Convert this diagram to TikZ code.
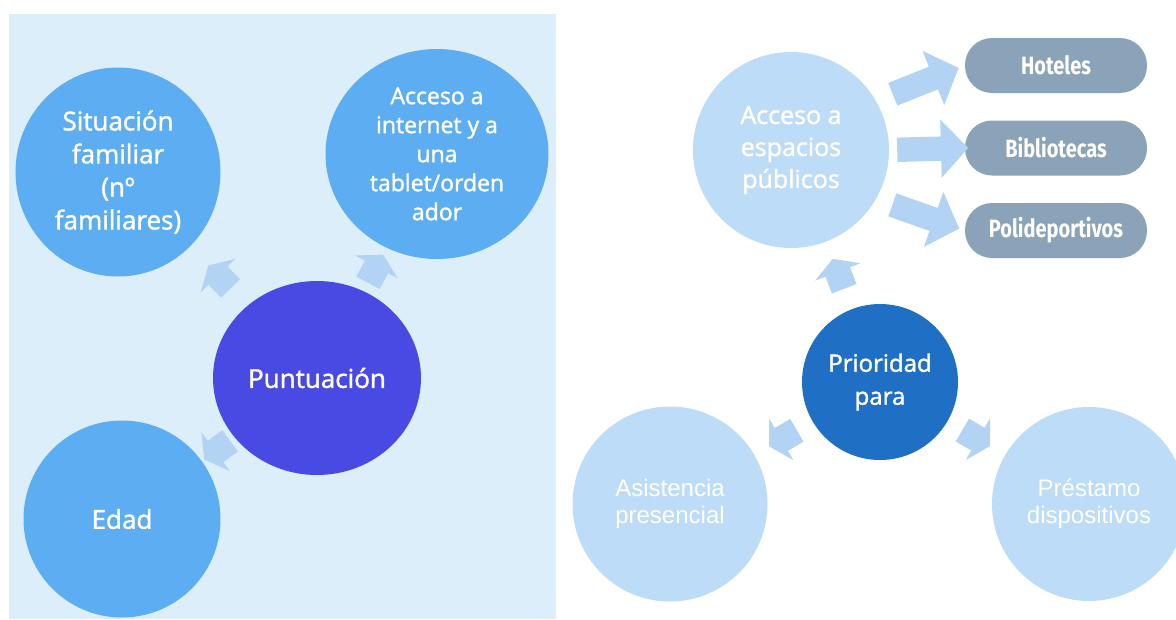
\documentclass[tikz,border=0pt]{standalone}
\usepackage{fontspec}
\setmainfont{Open Sans}[FakeBold=1.5]
\newfontfamily\arialfont{Liberation Sans}
\newfontfamily\pillfont[FakeStretch=0.8]{Fira Sans}
\usetikzlibrary{shapes.geometric,shapes.arrows}
\definecolor{panelbg}{HTML}{DDEEFB}
\definecolor{satl}{HTML}{5DADF2}
\definecolor{cenl}{HTML}{4949E3}
\definecolor{arrc}{HTML}{B3D3F5}
\definecolor{satr}{HTML}{BDDCF7}
\definecolor{cenr}{HTML}{1F6FC5}
\definecolor{pillc}{HTML}{8BA3B9}

\begin{document}
\begin{tikzpicture}[x=1pt,y=-1pt,
  bubble/.style={ellipse,inner sep=0pt,text=white,align=center,
    font=\fontsize{26}{33}\selectfont},
  plain/.style={bubble,font=\arialfont\fontsize{24}{27}\selectfont},
  arr/.style={single arrow,inner xsep=0pt,inner ysep=13pt,sloped,allow upside down,
    fill=arrc,minimum height=32pt,minimum width=48pt,
    single arrow head extend=11pt,single arrow tip angle=120},
  bigarr/.style={arr,inner ysep=12pt,minimum height=71pt,minimum width=58pt,
    single arrow head extend=17pt,single arrow tip angle=94},
  pill/.style={rounded corners=27pt,fill=pillc,text=white,inner sep=0pt,
    minimum width=182pt,minimum height=55pt,
    font=\pillfont\bfseries\fontsize{25}{28}\selectfont}]
\useasboundingbox (0,0) rectangle (1176,619);
\fill[panelbg] (9,14) rectangle (556,619);

% left panel
\node[bubble,fill=cenl,minimum width=208pt,minimum height=194pt] (punt) at (317,378) {Puntuación};
\node[bubble,fill=satl,minimum width=205pt,minimum height=209pt] (sit) at (118,172)
  {Situación\\familiar\\(nº\\familiares)};
\node[bubble,fill=satl,minimum width=223pt,minimum height=210pt,
  font=\fontsize{23}{29}\selectfont] (inet) at (437,154)
  {Acceso a\\internet y a\\una\\tablet/orden\\ador};
\node[bubble,fill=satl,minimum size=197pt] (edad) at (122,519) {Edad};
\path (punt) -- (sit) node[arr,pos=.44] {};
\path (punt) -- (inet) node[arr,pos=.44] {};
\path (punt) -- (edad) node[arr,pos=.44] {};

% right panel
\node[bubble,fill=cenr,minimum size=156pt,font=\fontsize{24}{33}\selectfont] (prio) at (880,382)
  {Prioridad\\para};
\node[bubble,fill=satr,minimum size=196pt,font=\fontsize{25}{32}\selectfont] (esp) at (791,150)
  {Acceso a\\espacios\\públicos};
\node[plain,fill=satr,minimum size=195pt] (asis) at (670,504) {Asistencia\\presencial};
\node[plain,fill=satr,minimum size=194pt] (prest) at (1089,504) {Préstamo\\dispositivos};
\path (prio) -- (esp) node[arr,pos=.47] {};
\path (prio) -- (asis) node[arr,pos=.45] {};
\path (prio) -- (prest) node[arr,pos=.44] {};

\node[pill] (hot) at (1056,65.5) {Hoteles};
\node[pill] (bib) at (1056,148) {Bibliotecas};
\node[pill] (poli) at (1056,230.5) {Polideportivos};
\path (esp.30) -- (hot.west) node[bigarr,pos=.5] {};
\path (esp.east) -- (bib.west) node[bigarr,pos=.5] {};
\path (esp.-30) -- (poli.west) node[bigarr,pos=.5] {};
\end{tikzpicture}
\end{document}
